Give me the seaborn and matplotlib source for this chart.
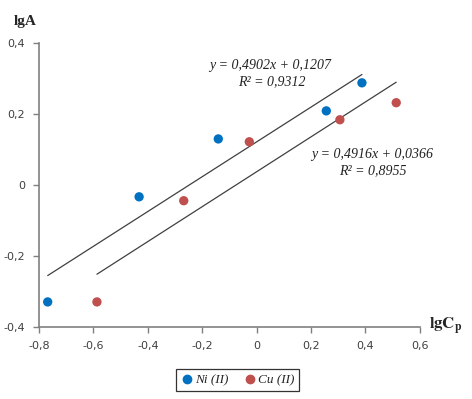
import matplotlib
matplotlib.use("Agg")
import matplotlib.pyplot as plt
import numpy as np
import pandas as pd
import seaborn as sns

# data
ni_x = [-0.768, -0.432, -0.141, 0.256, 0.387]
ni_y = [-0.330, -0.034, 0.129, 0.208, 0.287]
cu_x = [-0.587, -0.268, -0.027, 0.306, 0.513]
cu_y = [-0.330, -0.045, 0.121, 0.183, 0.231]
series = ["Ni (II)", "Cu (II)"]
slopes = [0.4902, 0.4916]
intercepts = [0.1207, 0.0366]
r2 = [0.9312, 0.8955]
x_ticks = [-0.8, -0.6, -0.4, -0.2, 0, 0.2, 0.4, 0.6]
y_ticks = [-0.4, -0.2, 0, 0.2, 0.4]

colors = {"Ni (II)": "#0070C0", "Cu (II)": "#C0504D"}

df = pd.DataFrame({
    "x": ni_x + cu_x,
    "y": ni_y + cu_y,
    "ion": [series[0]] * len(ni_x) + [series[1]] * len(cu_x),
})

sns.set_theme(style="white")
plt.rcParams["font.family"] = ["DejaVu Sans"]
plt.rcParams["mathtext.fontset"] = "stix"

fig = plt.figure(figsize=(4.72, 3.99), dpi=100)
ax = fig.add_axes([0.0826, 0.181, 0.807, 0.712])

sns.scatterplot(data=df, x="x", y="y", hue="ion", palette=colors, s=45,
                edgecolor="none", ax=ax, legend=False, zorder=3)

# trendlines over the range of each series
for xs, k, b in [(ni_x, slopes[0], intercepts[0]), (cu_x, slopes[1], intercepts[1])]:
    xx = np.array([min(xs), max(xs)])
    ax.plot(xx, k * xx + b, color="#404040", lw=0.9, zorder=2)

fmt = lambda v: f"{v:.4f}".replace(".", ",")
serif = ["Liberation Serif", "DejaVu Serif"]
eq = dict(ha="center", va="center", fontsize=10, style="italic", family=serif, color="#222222")
ax.text(0.05, 0.335, f"y = {fmt(slopes[0])}x + {fmt(intercepts[0])}", **eq)
ax.text(0.055, 0.29, f"R² = {fmt(r2[0])}", **eq)
ax.text(0.426, 0.085, f"y = {fmt(slopes[1])}x + {fmt(intercepts[1])}", **eq)
ax.text(0.426, 0.04, f"R² = {fmt(r2[1])}", **eq)

ax.set_xlim(-0.8, 0.6)
ax.set_ylim(-0.4, 0.4)
ax.set_xticks(x_ticks)
ax.set_yticks(y_ticks)
lab = lambda v: "0" if v == 0 else f"{v:.1f}".replace(".", ",")
ax.set_xticklabels([lab(v) for v in x_ticks])
ax.set_yticklabels([lab(v) for v in y_ticks])
ax.tick_params(axis="both", labelsize=8, labelcolor="#404040", length=4, width=1,
               color="#808080", direction="out", left=True, bottom=True, pad=6)
ax.set_xlabel("")
ax.set_ylabel("")
for side in ("top", "right"):
    ax.spines[side].set_visible(False)
for side in ("left", "bottom"):
    ax.spines[side].set_color("#808080")
    ax.spines[side].set_linewidth(1.2)

fig.text(25 / 472, 1 - 22 / 399, "lgA", ha="center", va="center", fontsize=11,
         fontweight="bold", family=serif)
fig.text(429 / 472, 1 - 326 / 399, r"$\mathbf{lgC_p}$", ha="left", va="center", fontsize=12)

handles = [plt.Line2D([], [], marker="o", ls="", color=colors[s], markersize=6) for s in series]
leg = fig.legend(handles, series, loc="center", bbox_to_anchor=(237.5 / 472, 1 - 380 / 399),
                 ncol=2, frameon=True, fancybox=False, handletextpad=0.1, columnspacing=1.1,
                 handlelength=1.0, borderpad=0.35, prop={"family": serif, "style": "italic", "size": 9.5})
leg.get_frame().set_edgecolor("black")
leg.get_frame().set_linewidth(0.9)

fig.savefig("out.png", dpi=100)
